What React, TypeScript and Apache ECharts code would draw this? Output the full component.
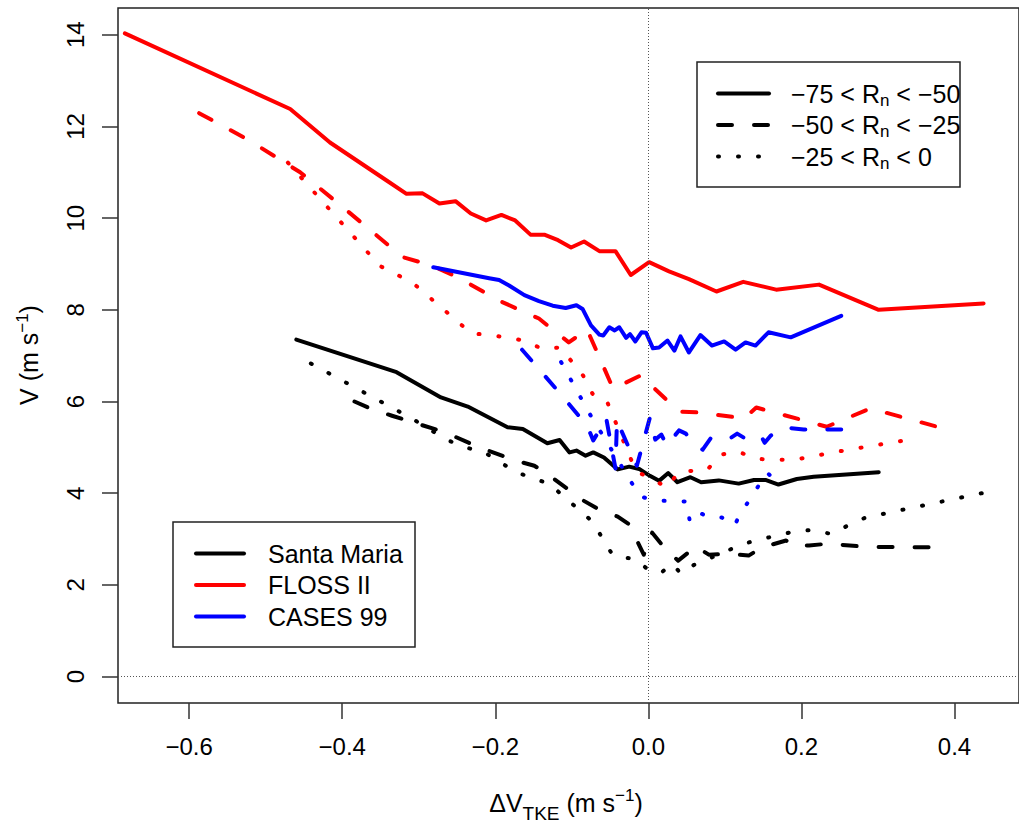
import React, { useEffect, useRef } from "react";
import * as echarts from "echarts";

// ---- axes ----
const xTicks = [-0.6, -0.4, -0.2, 0, 0.2, 0.4];
const yTicks = [0, 2, 4, 6, 8, 10, 12, 14];
const xRange = [-0.693, 0.4843];
const yRange = [-0.575, 14.583];

// ---- Santa Maria (black) ----
const smSolid = [
  [-0.46, 7.35], [-0.329, 6.64], [-0.271, 6.09], [-0.236, 5.89], [-0.184, 5.44], [-0.164, 5.4],
  [-0.132, 5.09], [-0.116, 5.16], [-0.103, 4.89], [-0.094, 4.93], [-0.082, 4.82], [-0.072, 4.89],
  [-0.058, 4.78], [-0.04, 4.52], [-0.025, 4.58], [-0.012, 4.53], [0.002, 4.38], [0.014, 4.27],
  [0.026, 4.44], [0.038, 4.24], [0.055, 4.35], [0.069, 4.24], [0.092, 4.28], [0.118, 4.21],
  [0.138, 4.29], [0.153, 4.29], [0.17, 4.19], [0.194, 4.31], [0.216, 4.36], [0.301, 4.46],
];
const smDashed = [
  [-0.384, 6.0], [-0.362, 5.84], [-0.335, 5.69], [-0.266, 5.33], [-0.221, 5.0], [-0.173, 4.71],
  [-0.149, 4.6], [-0.127, 4.36], [-0.086, 3.85], [-0.064, 3.64], [-0.04, 3.49], [-0.025, 3.32],
  [-0.006, 2.66], [0.005, 3.14], [0.024, 2.75], [0.039, 2.53], [0.062, 2.84], [0.079, 2.66],
  [0.105, 2.68], [0.131, 2.64], [0.149, 2.82], [0.18, 2.97], [0.188, 2.86], [0.21, 2.86],
  [0.235, 2.9], [0.285, 2.83], [0.388, 2.82],
];
const smDotted = [
  [-0.441, 6.83], [-0.307, 5.61], [-0.264, 5.17], [-0.24, 5.0], [-0.216, 4.91], [-0.173, 4.46],
  [-0.129, 4.2], [-0.073, 3.38], [-0.047, 2.66], [-0.016, 2.55], [0.0, 2.33], [0.016, 2.26],
  [0.032, 2.46], [0.042, 2.25], [0.06, 2.44], [0.125, 2.9], [0.148, 3.0], [0.192, 3.17],
  [0.215, 3.2], [0.239, 3.11], [0.26, 3.29], [0.284, 3.47], [0.458, 4.08],
];

// ---- FLOSS II (red) ----
const flSolid = [
  [-0.684, 14.03], [-0.468, 12.38], [-0.416, 11.65], [-0.342, 10.82], [-0.316, 10.53], [-0.295, 10.54],
  [-0.273, 10.32], [-0.252, 10.37], [-0.232, 10.1], [-0.212, 9.95], [-0.192, 10.07], [-0.174, 9.95],
  [-0.154, 9.64], [-0.136, 9.64], [-0.118, 9.52], [-0.101, 9.36], [-0.084, 9.49], [-0.064, 9.28],
  [-0.043, 9.28], [-0.023, 8.76], [0.001, 9.04], [0.027, 8.84], [0.053, 8.67], [0.089, 8.4],
  [0.124, 8.61], [0.167, 8.44], [0.223, 8.55], [0.301, 8.0], [0.438, 8.14],
];
const flDashed = [
  [-0.587, 12.29], [-0.521, 11.69], [-0.455, 11.0], [-0.4, 10.25], [-0.321, 9.15], [-0.282, 8.96],
  [-0.249, 8.71], [-0.195, 8.2], [-0.143, 7.81], [-0.104, 7.29], [-0.08, 7.57], [-0.046, 6.28],
  [-0.01, 6.57], [0.04, 5.78], [0.068, 5.76], [0.125, 5.63], [0.141, 5.87], [0.233, 5.45],
  [0.29, 5.85], [0.395, 5.37],
];
const flDotted = [
  [-0.471, 11.21], [-0.351, 8.96], [-0.308, 8.59], [-0.231, 7.48], [-0.209, 7.46], [-0.162, 7.33],
  [-0.139, 7.15], [-0.115, 7.18], [-0.085, 6.56], [-0.073, 6.17], [-0.055, 6.04], [-0.016, 4.47],
  [0.005, 4.32], [0.024, 4.12], [0.04, 4.47], [0.077, 4.51], [0.094, 4.84], [0.117, 4.91],
  [0.141, 4.75], [0.166, 4.73], [0.191, 4.73], [0.241, 4.89], [0.341, 5.17],
];

// ---- CASES 99 (blue) ----
const csSolid = [
  [-0.281, 8.93], [-0.208, 8.69], [-0.195, 8.65], [-0.182, 8.53], [-0.162, 8.32], [-0.143, 8.19],
  [-0.125, 8.09], [-0.108, 8.04], [-0.094, 8.1], [-0.086, 8.02], [-0.075, 7.66], [-0.064, 7.46],
  [-0.059, 7.44], [-0.051, 7.62], [-0.044, 7.55], [-0.038, 7.62], [-0.029, 7.39], [-0.024, 7.47],
  [-0.017, 7.31], [-0.009, 7.51], [-0.003, 7.5], [0.006, 7.16], [0.014, 7.18], [0.025, 7.33],
  [0.034, 7.11], [0.042, 7.42], [0.053, 7.07], [0.068, 7.45], [0.083, 7.22], [0.099, 7.31],
  [0.114, 7.13], [0.127, 7.29], [0.14, 7.22], [0.157, 7.51], [0.186, 7.4], [0.252, 7.87],
];
const csDashed = [
  [-0.165, 7.13], [-0.114, 6.15], [-0.08, 5.47], [-0.072, 5.15], [-0.055, 5.63], [-0.043, 4.54],
  [-0.041, 5.58], [-0.015, 4.6], [0.002, 5.65], [0.009, 5.17], [0.017, 5.28], [0.024, 5.04],
  [0.04, 5.37], [0.049, 5.3], [0.055, 5.15], [0.071, 4.95], [0.082, 5.21], [0.106, 5.19],
  [0.116, 5.3], [0.125, 5.21], [0.147, 5.26], [0.152, 5.1], [0.16, 5.26], [0.181, 5.43],
  [0.203, 5.39], [0.252, 5.39],
];
const csDotted = [
  [-0.114, 6.86], [-0.077, 5.74], [-0.011, 3.93], [0.009, 3.84], [0.05, 3.82], [0.054, 3.4],
  [0.063, 3.6], [0.081, 3.47], [0.096, 3.47], [0.113, 3.3], [0.118, 3.49], [0.155, 4.45],
  [0.174, 4.17],
];

const siteNames = ["Santa Maria", "FLOSS II", "CASES 99"];
const siteColors = ["#000000", "#ff0000", "#0000ff"];
const classLabels = ["−75 < R{n|n} < −50", "−50 < R{n|n} < −25", "−25 < R{n|n} < 0"];

const FONT = "'Liberation Sans', Arial, Helvetica, sans-serif";
const DASHED = [14, 22];
const DOTTED = [1, 19];
const lineTypes: any[] = ["solid", DASHED, DOTTED];

const fmt = (v: number, d: number) => (v < 0 ? "−" : "") + Math.abs(v).toFixed(d);

export default function App() {
  const ref = useRef<HTMLDivElement>(null);
  useEffect(() => {
    if (!ref.current) return;
    const chart = echarts.init(ref.current, undefined, { renderer: "svg" });
    const groups = [
      [smSolid, smDashed, smDotted],
      [flSolid, flDashed, flDotted],
      [csSolid, csDashed, csDotted],
    ];
    const series: any[] = [
      {
        type: "line",
        data: [],
        silent: true,
        markLine: {
          silent: true,
          symbol: ["none", "none"],
          label: { show: false },
          lineStyle: { color: "#555", width: 1, type: [1, 2] },
          data: [{ xAxis: 0 }, { yAxis: 0 }],
        },
      },
    ];
    groups.forEach((g, gi) => {
      g.forEach((d, li) => {
        series.push({
          type: "line",
          name: siteNames[gi] + " " + li,
          data: d,
          symbol: "none",
          showSymbol: false,
          silent: true,
          lineStyle: { color: siteColors[gi], width: 4, type: lineTypes[li], cap: "round", join: "round" },
        });
      });
    });

    const legendA: any[] = [
      { type: "rect", shape: { x: 697, y: 62, width: 263, height: 125 }, style: { fill: "#fff", stroke: "#222", lineWidth: 1.5 }, z: 100 },
    ];
    const rowsA = [93.5, 125, 156.5];
    rowsA.forEach((y, i) => {
      legendA.push({
        type: "line",
        shape: { x1: 718, y1: y, x2: 769, y2: y },
        style: { stroke: "#000", lineWidth: 4, lineDash: i === 0 ? null : lineTypes[i], lineCap: "round" },
        z: 101,
      });
      legendA.push({
        type: "text",
        x: 791,
        y,
        style: {
          text: classLabels[i],
          fontSize: 25,
          fontFamily: FONT,
          fill: "#000",
          align: "left",
          verticalAlign: "middle",
          lineHeight: 30,
          rich: { n: { fontSize: 17, lineHeight: 14, verticalAlign: "bottom", fontFamily: FONT } },
        },
        z: 102,
      });
    });
    const legendB: any[] = [
      { type: "rect", shape: { x: 173, y: 522, width: 242, height: 125 }, style: { fill: "#fff", stroke: "#222", lineWidth: 1.5 }, z: 100 },
    ];
    const rowsB = [553.5, 585, 616.5];
    rowsB.forEach((y, i) => {
      legendB.push({
        type: "line",
        shape: { x1: 196, y1: y, x2: 244, y2: y },
        style: { stroke: siteColors[i], lineWidth: 4, lineCap: "round" },
        z: 101,
      });
      legendB.push({
        type: "text",
        x: 268,
        y,
        style: { text: siteNames[i], fontSize: 25, fontFamily: FONT, fill: "#000", align: "left", verticalAlign: "middle" },
        z: 102,
      });
    });

    const titles: any[] = [
      {
        type: "text",
        x: 566,
        y: 803,
        style: {
          text: "ΔV{sub|TKE} (m s{sup|−1})",
          fontSize: 25,
          fontFamily: FONT,
          fill: "#000",
          align: "center",
          verticalAlign: "middle",
          lineHeight: 40,
          rich: {
            sub: { fontSize: 19, lineHeight: 10, verticalAlign: "bottom", fontFamily: FONT },
            sup: { fontSize: 17, lineHeight: 14, verticalAlign: "top", fontFamily: FONT, padding: [4, 0, 0, 0] },
          },
        },
      },
      {
        type: "text",
        x: 29,
        y: 355,
        rotation: Math.PI / 2,
        style: {
          text: "V (m s{sup|−1})",
          fontSize: 25,
          fontFamily: FONT,
          fill: "#000",
          align: "center",
          verticalAlign: "middle",
          lineHeight: 30,
          rich: { sup: { fontSize: 17, lineHeight: 14, verticalAlign: "top", fontFamily: FONT } },
        },
      },
    ];

    chart.setOption({
      animation: false,
      backgroundColor: "#ffffff",
      textStyle: { fontFamily: FONT },
      grid: { left: 118, right: -2, top: 8, bottom: 122, show: true, borderColor: "#222", borderWidth: 1.5, backgroundColor: "transparent" },
      xAxis: {
        type: "value",
        position: "bottom",
        min: xRange[0],
        max: xRange[1],
        splitLine: { show: false },
        axisLine: { show: false, onZero: false },
        axisTick: { show: true, inside: false, customValues: xTicks, length: 16, lineStyle: { color: "#333", width: 1.5 } },
        axisLabel: {
          customValues: xTicks,
          formatter: (v: number) => fmt(v, 1),
          fontSize: 24,
          fontFamily: FONT,
          color: "#000",
          margin: 31,
        },
      },
      yAxis: {
        type: "value",
        position: "left",
        min: yRange[0],
        max: yRange[1],
        splitLine: { show: false },
        axisLine: { show: false, onZero: false },
        axisTick: { show: true, inside: false, customValues: yTicks, length: 16, lineStyle: { color: "#333", width: 1.5 } },
        axisLabel: {
          customValues: yTicks,
          formatter: (v: number) => fmt(v, 0),
          fontSize: 24,
          fontFamily: FONT,
          color: "#000",
          rotate: 90,
          margin: 31,
        },
      },
      series,
      graphic: [...legendA, ...legendB, ...titles],
    });
    return () => chart.dispose();
  }, []);
  return <div ref={ref} style={{ position: "fixed", left: 0, top: 0, width: 1019, height: 825 }} />;
}
